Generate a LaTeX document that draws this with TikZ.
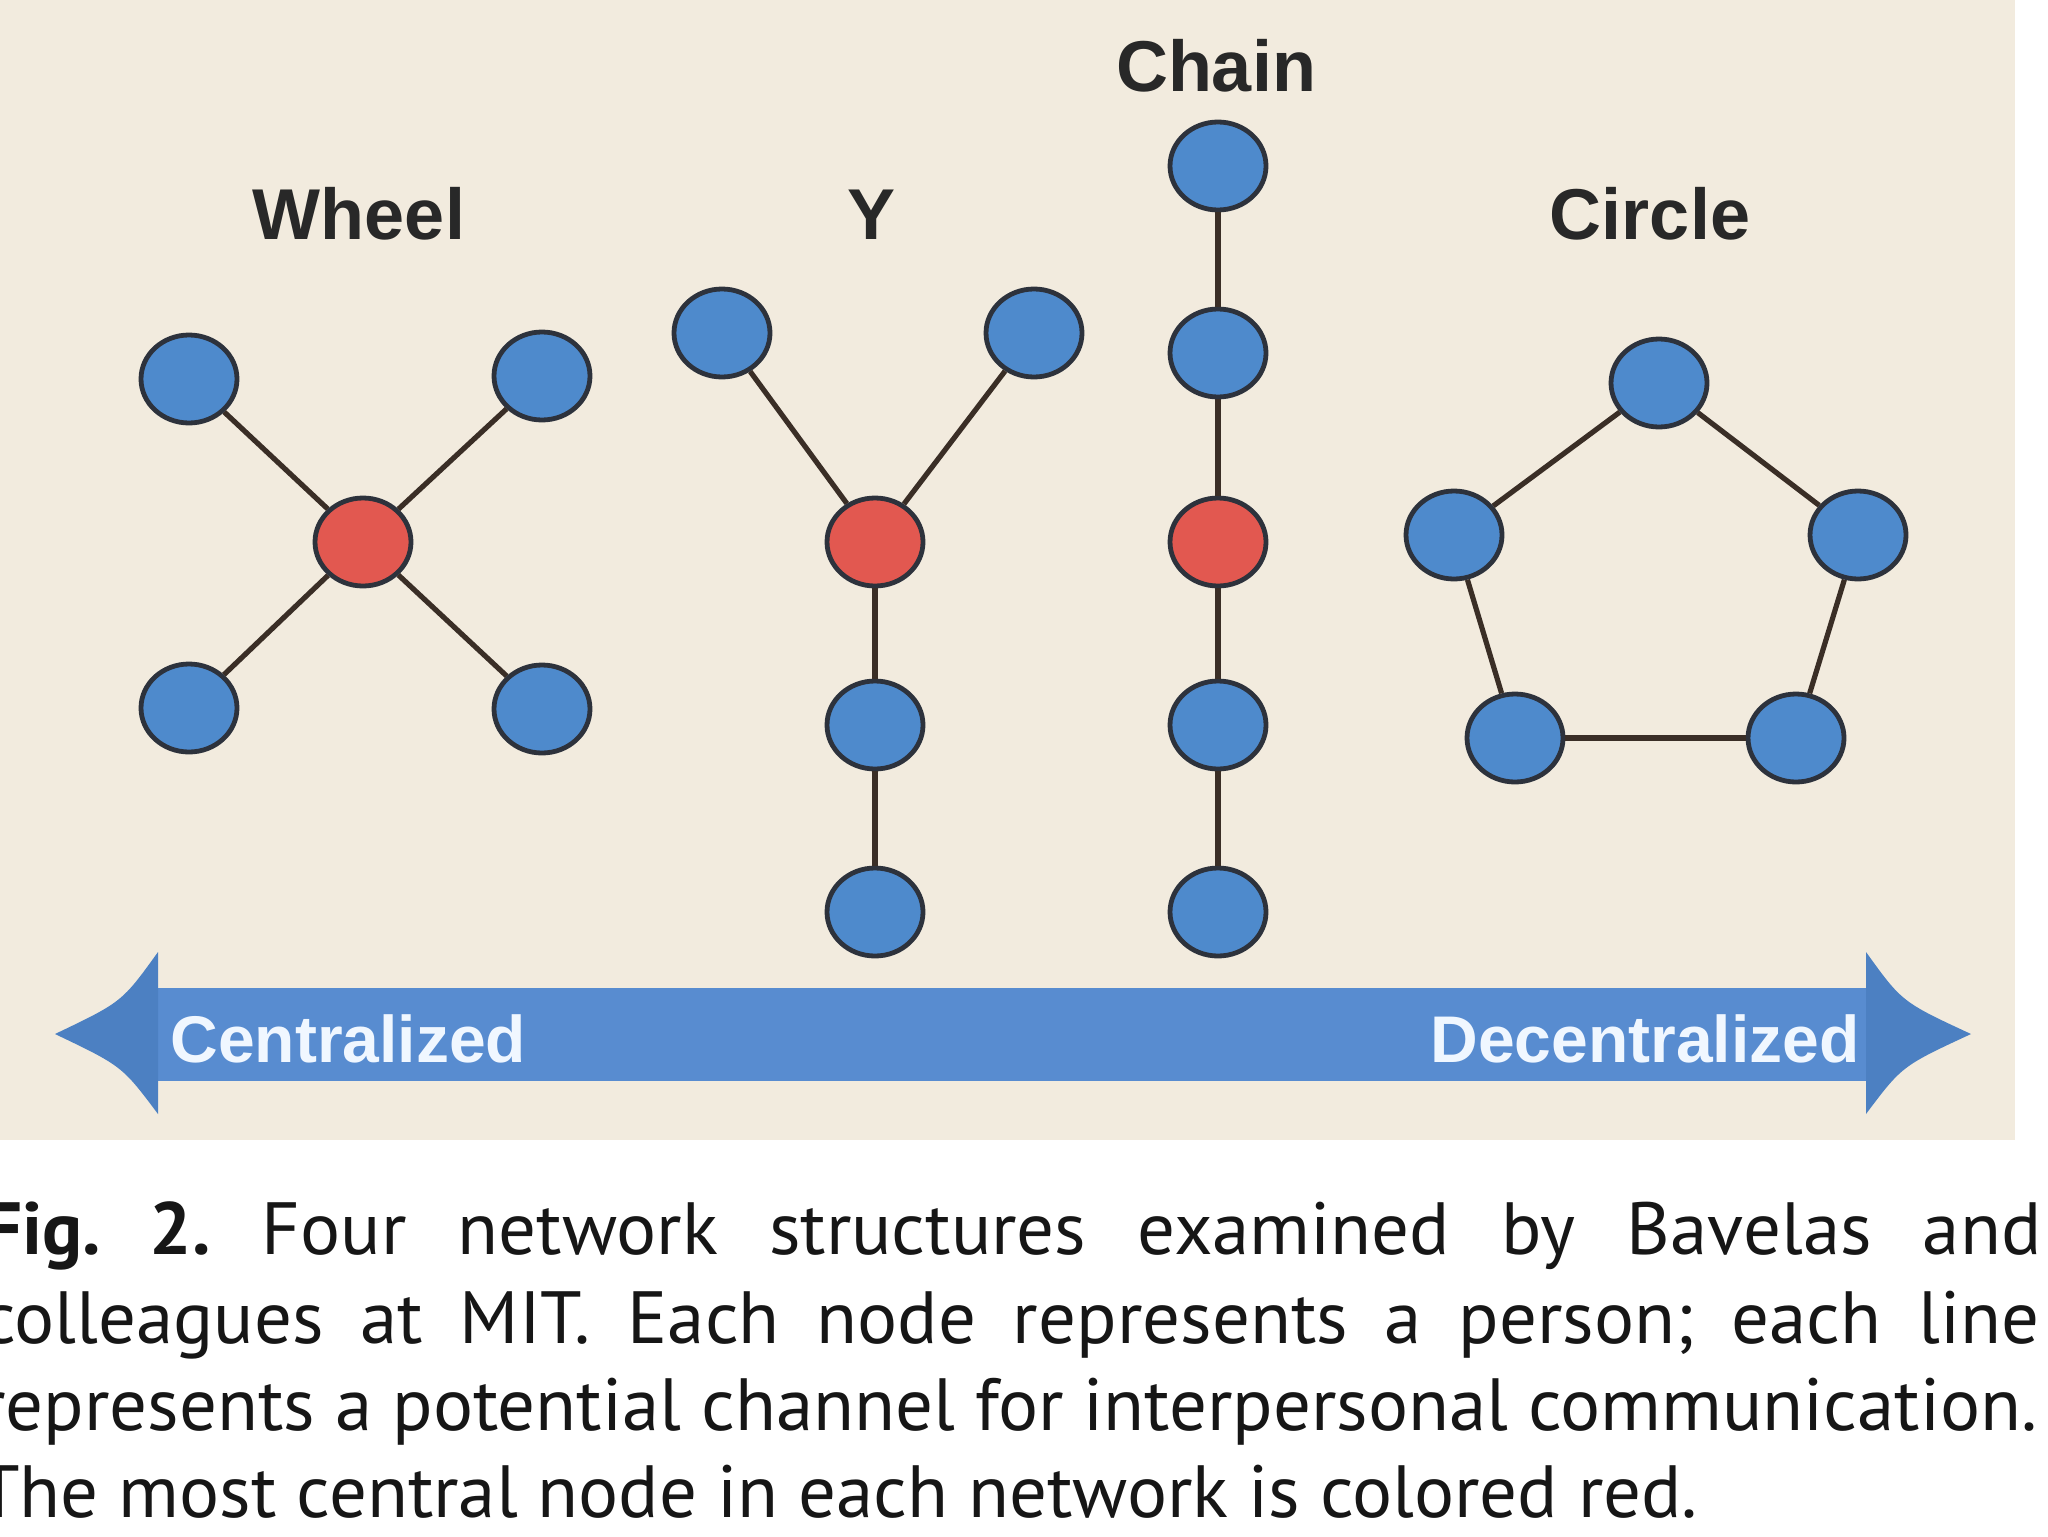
\documentclass[tikz,border=0pt]{standalone}
\usepackage{fontspec}
\usepackage{graphicx}
\usetikzlibrary{shapes.geometric}
\newfontfamily\labfont{Liberation Sans}
\newfontfamily\capfont{PT Sans}
\definecolor{panel}{RGB}{242,235,222}
\definecolor{nodeblue}{RGB}{78,138,204}
\definecolor{nodered}{RGB}{226,88,80}
\definecolor{nodeline}{RGB}{45,50,60}
\definecolor{edgecol}{RGB}{58,46,38}
\definecolor{arrowblue}{RGB}{88,140,208}
\definecolor{arrowhead}{RGB}{76,128,194}
\definecolor{labcol}{RGB}{40,40,40}
\definecolor{captext}{RGB}{22,22,22}
\definecolor{arrowtext}{RGB}{240,247,255}
\newsavebox\capmeasure
\tikzset{
  person/.style={ellipse, draw=nodeline, line width=2.4pt, minimum width=48pt,
    minimum height=44pt, inner sep=0pt},
  blueperson/.style={person, fill=nodeblue},
  redperson/.style={person, fill=nodered},
  edge/.style={draw=edgecol, line width=2.6pt},
  netlabel/.style={font=\fontsize{36pt}{40pt}\labfont\bfseries, text=labcol,
    inner sep=0pt, anchor=base},
  arrowlabel/.style={font=\fontsize{33pt}{38pt}\labfont\bfseries, text=arrowtext,
    inner sep=0pt},
  capline/.style={font=\fontsize{37pt}{44pt}\capfont\frenchspacing, text=captext,
    inner sep=0pt, anchor=base west},
}
\begin{document}
\frenchspacing
\sbox\capmeasure{\fontsize{37pt}{44pt}\capfont represents a potential channel for interpersonal communication.}%
\pgfmathsetmacro\capsx{1028.5/\the\wd\capmeasure}%
\pgfmathsetmacro\capjw{1028.5/\capsx}%
\begin{tikzpicture}[x=0.5pt,y=-0.5pt]
\useasboundingbox (0,0) rectangle (2048,1536);
\fill[white] (0,0) rectangle (2048,1536);
\fill[panel] (0,0) rectangle (2015,1140);

% labels
\node[netlabel] (lwheel) at (359,239) {Wheel};
\node[netlabel] (ly) at (871,239) {Y};
\node[netlabel] (lchain) at (1216,91) {Chain};
\node[netlabel] (lcircle) at (1650,239) {Circle};

% Wheel
\node[redperson] (w0) at (363,542) {};
\node[blueperson] (w1) at (189,379) {};
\node[blueperson] (w2) at (542,376) {};
\node[blueperson] (w3) at (189,708) {};
\node[blueperson] (w4) at (542,709) {};
\draw[edge] (w0) -- (w1);
\draw[edge] (w0) -- (w2);
\draw[edge] (w0) -- (w3);
\draw[edge] (w0) -- (w4);

% Y
\node[blueperson] (y1) at (722,333) {};
\node[blueperson] (y2) at (1034,333) {};
\node[redperson] (y0) at (875,542) {};
\node[blueperson] (y3) at (875,725) {};
\node[blueperson] (y4) at (875,912) {};
\draw[edge] (y0) -- (y1);
\draw[edge] (y0) -- (y2);
\draw[edge] (y0) -- (y3);
\draw[edge] (y3) -- (y4);

% Chain
\node[blueperson] (c1) at (1218,166) {};
\node[blueperson] (c2) at (1218,353) {};
\node[redperson] (c3) at (1218,542) {};
\node[blueperson] (c4) at (1218,725) {};
\node[blueperson] (c5) at (1218,912) {};
\draw[edge] (c1) -- (c2);
\draw[edge] (c2) -- (c3);
\draw[edge] (c3) -- (c4);
\draw[edge] (c4) -- (c5);

% Circle
\node[blueperson] (r1) at (1659,383) {};
\node[blueperson] (r2) at (1858,535) {};
\node[blueperson] (r3) at (1796,738) {};
\node[blueperson] (r4) at (1515,738) {};
\node[blueperson] (r5) at (1454,535) {};
\draw[edge] (r1) -- (r2);
\draw[edge] (r2) -- (r3);
\draw[edge] (r3) -- (r4);
\draw[edge] (r4) -- (r5);
\draw[edge] (r5) -- (r1);

% double arrow
\fill[arrowblue] (150,988) rectangle (1874,1081);
\fill[arrowhead] (55,1034) .. controls (122,1002) .. (158,952) -- (158,1114)
  .. controls (122,1066) .. (55,1034) -- cycle;
\fill[arrowhead] (1971,1034) .. controls (1902,1002) .. (1866,952) -- (1866,1114)
  .. controls (1902,1066) .. (1971,1034) -- cycle;
\node[arrowlabel, anchor=base west] (tcen) at (170,1062) {Centralized};
\node[arrowlabel, anchor=base east] (tdec) at (1860,1062) {Decentralized};

% caption
\begin{scope}
\clip (0,1140) rectangle (2048,1536);
\node[capline] (cap1) at (-16,1254) {\scalebox{\capsx}[1]{\makebox[\capjw pt][s]{\textbf{Fig. 2.} Four network structures examined by Bavelas and}}};
\node[capline] (cap2) at (-18,1343) {\scalebox{\capsx}[1]{\makebox[\capjw pt][s]{colleagues at MIT. Each node represents a person; each line}}};
\node[capline] (cap3) at (-20,1430) {\scalebox{\capsx}[1]{\makebox[\capjw pt][s]{represents a potential channel for interpersonal communication.}}};
\node[capline] (cap4) at (-22,1517) {\scalebox{\capsx}[1]{The most central node in each network is colored red.}};
\end{scope}
\end{tikzpicture}
\end{document}
